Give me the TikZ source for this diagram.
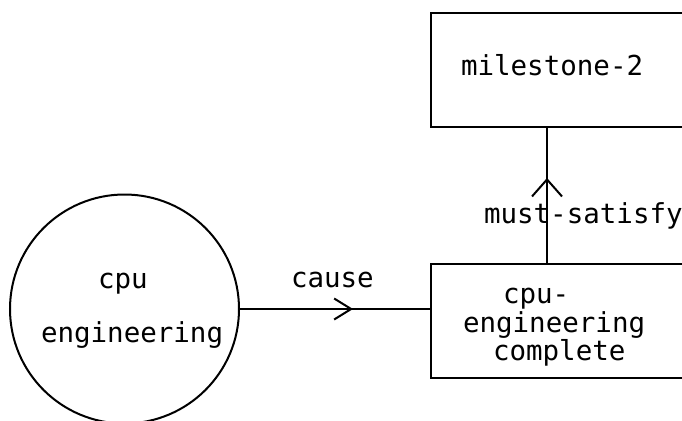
\documentclass[tikz,border=0pt]{standalone}
\usepackage{fontspec}
\newfontfamily\plotmono{DejaVu Sans Mono}
\usetikzlibrary{arrows.meta,decorations.markings}
\begin{document}
\begin{tikzpicture}[x=1pt,y=-1pt,line width=2pt,
  lbl/.style={font=\plotmono\fontsize{27.5}{30}\selectfont, inner sep=0pt, anchor=base west},
  boxshape/.style={draw, rectangle, inner sep=0pt, anchor=north west},
  midarrow/.style 2 args={postaction={decorate}, decoration={markings,
     mark=at position #1 with {\arrow{Straight Barb[length=17pt,width=#2,line width=2pt]}}}}]
\clip (0,0) rectangle (682,420);
\useasboundingbox (0,0) rectangle (682,420);
% circle
\node[draw, circle, inner sep=0pt, minimum size=229pt] (cpu) at (124.5,309) {};
\node[lbl] (cpu1) at (97,288) {cpu};
\node[lbl] (cpu2) at (40,342) {engineering};
% bottom box
\node[boxshape, minimum width=280pt, minimum height=114pt] (ce) at (430,263) {};
\node[lbl] (ce1) at (502,303) {cpu-};
\node[lbl] (ce2) at (462,332) {engineering};
\node[lbl] (ce3) at (492,360) {complete};
% top box
\node[boxshape, minimum width=280pt, minimum height=114pt] (ms) at (430,12) {};
\node[lbl] (ms1) at (460,75) {milestone-2};
% connectors
\draw[midarrow={0.595}{21pt}] (cpu.east) -- (cpu.east -| ce.west);
\node[lbl] (cause) at (290,287) {cause};
\coordinate (msfoot) at (547,263);
\draw[midarrow={0.63}{30pt}] (msfoot) -- (msfoot |- ms.south);
\node[lbl] (must) at (483,223) {must-satisfy};
\end{tikzpicture}
\end{document}
